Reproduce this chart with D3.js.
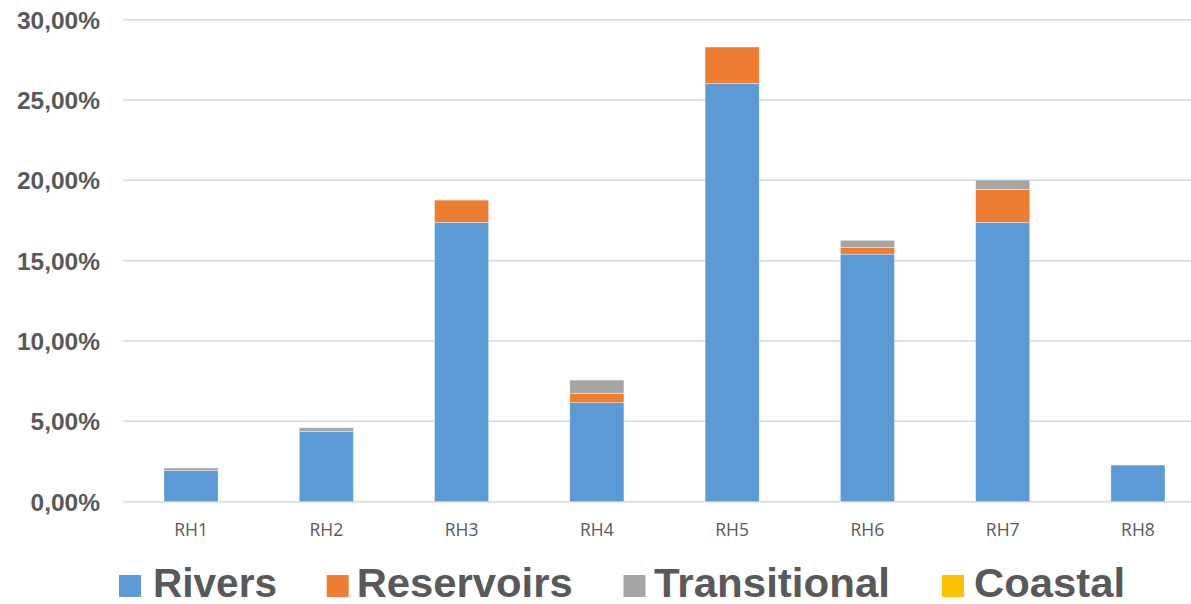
<!DOCTYPE html>
<html>
<head>
<meta charset="utf-8">
<script src="https://cdn.jsdelivr.net/npm/d3@7/dist/d3.min.js"></script>
<style>
  html, body { margin: 0; padding: 0; background: #fff; }
  svg { display: block; }
</style>
</head>
<body>
<svg id="chart" width="1191" height="604"></svg>
<script>
// Regions (hydrographic units)
const categories = ["RH1", "RH2", "RH3", "RH4", "RH5", "RH6", "RH7", "RH8"];

// Share of each water category, as fractions
const rivers       = [0.0193, 0.0436, 0.1739, 0.0616, 0.2604, 0.1541, 0.1739, 0.0228];
const reservoirs   = [0.0000, 0.0000, 0.0138, 0.0059, 0.0226, 0.0042, 0.0205, 0.0000];
const transitional = [0.0017, 0.0024, 0.0000, 0.0082, 0.0000, 0.0044, 0.0058, 0.0000];
const coastal      = [0.0000, 0.0000, 0.0000, 0.0000, 0.0000, 0.0000, 0.0000, 0.0000];

const seriesNames = ["Rivers", "Reservoirs", "Transitional", "Coastal"];
const seriesColors = ["#5B9BD5", "#ED7D31", "#A5A5A5", "#FFC000"];
const yTicks = [0, 0.05, 0.10, 0.15, 0.20, 0.25, 0.30];

const svg = d3.select("#chart");
const textColor = "#595959";

const table = categories.map((c, i) => ({
  region: c,
  Rivers: rivers[i],
  Reservoirs: reservoirs[i],
  Transitional: transitional[i],
  Coastal: coastal[i]
}));

const x = d3.scaleBand()
  .domain(categories)
  .range([123.4, 1205.6])
  .paddingInner(0.6)
  .paddingOuter(0.3);

const y = d3.scaleLinear()
  .domain([0, 0.30])
  .range([501.7, 19.7]);

const locale = d3.formatLocale({ decimal: ",", thousands: ".", grouping: [3], currency: ["", "€"] });
const fmt = locale.format(".2%");

// Horizontal gridlines
svg.append("g")
  .selectAll("line")
  .data(yTicks)
  .join("line")
  .attr("x1", 123)
  .attr("x2", 1191)
  .attr("y1", d => y(d))
  .attr("y2", d => y(d))
  .attr("stroke", "#D9D9D9")
  .attr("stroke-width", 1.5);

// Y axis labels
svg.append("g")
  .selectAll("text")
  .data(yTicks)
  .join("text")
  .attr("x", 100)
  .attr("y", d => y(d))
  .attr("dy", "0.36em")
  .attr("text-anchor", "end")
  .attr("font-family", "'Liberation Sans', Arial, sans-serif")
  .attr("font-weight", "bold")
  .attr("font-size", 24.5)
  .attr("fill", textColor)
  .text(d => fmt(d));

// Stacked bars
const stack = d3.stack().keys(seriesNames);
const layers = stack(table);

svg.append("g")
  .selectAll("g")
  .data(layers)
  .join("g")
  .attr("fill", (d, i) => seriesColors[i])
  .selectAll("rect")
  .data(d => d.filter(p => p[1] - p[0] > 0))
  .join("rect")
  .attr("x", d => x(d.data.region))
  .attr("width", x.bandwidth())
  .attr("y", d => y(d[1]))
  .attr("height", d => y(d[0]) - y(d[1]))
  .attr("stroke", "#ffffff")
  .attr("stroke-width", 0.6)
  .attr("stroke-opacity", 0.6);

// Category labels
svg.append("g")
  .selectAll("text")
  .data(categories)
  .join("text")
  .attr("x", d => x(d) + x.bandwidth() / 2)
  .attr("y", 536)
  .attr("text-anchor", "middle")
  .attr("font-family", "'Open Sans', sans-serif")
  .attr("font-size", 17.5)
  .attr("fill", textColor)
  .text(d => d);

// Legend: swatch position, text offset and text width per entry
const legendX = [119, 326.7, 623.5, 942];
const legendTextDx = [34, 30, 30.5, 32];
const legendW = [124, 216, 236, 151];
const legend = svg.append("g")
  .selectAll("g")
  .data(seriesNames)
  .join("g")
  .attr("transform", (d, i) => `translate(${legendX[i]},575)`);

legend.append("rect")
  .attr("width", 22)
  .attr("height", 22)
  .attr("fill", (d, i) => seriesColors[i]);

legend.append("text")
  .attr("x", (d, i) => legendTextDx[i])
  .attr("y", 22)
  .attr("font-family", "'Liberation Sans', Arial, sans-serif")
  .attr("font-weight", "bold")
  .attr("font-size", 40)
  .attr("fill", textColor)
  .attr("textLength", (d, i) => legendW[i])
  .attr("lengthAdjust", "spacingAndGlyphs")
  .text(d => d);
</script>
</body>
</html>
